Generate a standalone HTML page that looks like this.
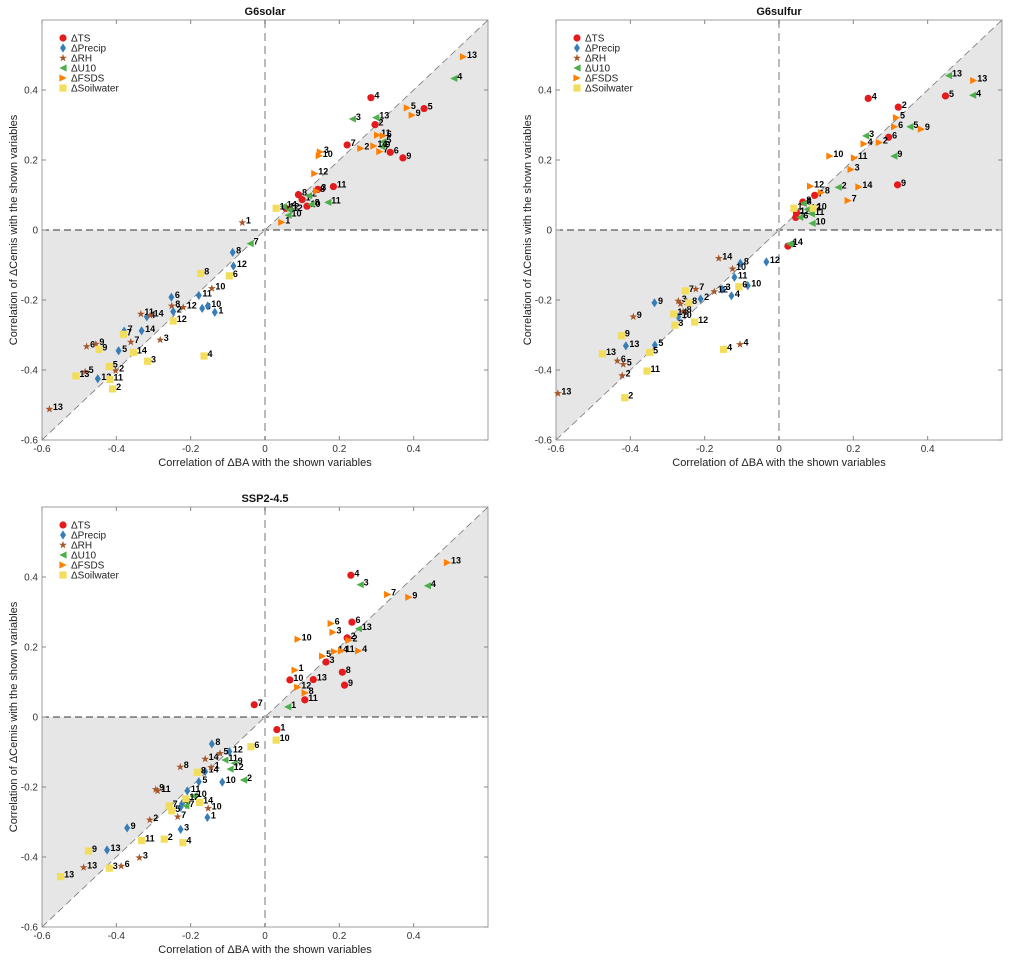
<!DOCTYPE html>
<html><head><meta charset="utf-8"><style>
body{margin:0;background:#fff;}
svg text{font-family:"Liberation Sans",Arial,sans-serif;}
</style></head><body>
<svg id="chart" width="1010" height="961" xmlns="http://www.w3.org/2000/svg"></svg>
<script>
// ---- data ----
const varNames = ["ΔTS","ΔPrecip","ΔRH","ΔU10","ΔFSDS","ΔSoilwater"];
const ticks = [-0.6,-0.4,-0.2,0,0.2,0.4];
const tickLabels = ["-0.6","-0.4","-0.2","0","0.2","0.4"];

const solarTS = {x:[0.285,0.428,0.296,0.221,0.337,0.371,0.184,0.142,0.090,0.100,0.113,0.056], y:[0.378,0.347,0.301,0.243,0.222,0.206,0.124,0.116,0.101,0.087,0.068,0.062], n:[4,5,2,7,6,9,11,3,8,1,10,12]};
const solarPrecip = {x:[-0.087,-0.085,-0.178,-0.252,-0.169,-0.154,-0.135,-0.247,-0.318,-0.332,-0.379,-0.394,-0.450], y:[-0.064,-0.103,-0.187,-0.192,-0.224,-0.217,-0.235,-0.233,-0.248,-0.288,-0.289,-0.345,-0.425], n:[8,12,11,6,3,10,1,2,4,14,7,5,13]};
const solarRH = {x:[-0.061,-0.143,-0.251,-0.220,-0.334,-0.309,-0.361,-0.282,-0.480,-0.455,-0.484,-0.402,-0.580], y:[0.021,-0.167,-0.217,-0.221,-0.240,-0.244,-0.320,-0.314,-0.333,-0.326,-0.405,-0.402,-0.512], n:[1,10,8,12,11,14,7,3,6,9,5,2,13]};
const solarU10 = {x:[0.508,0.298,0.235,0.317,0.314,0.169,0.124,0.117,0.065,0.062,0.049,-0.040], y:[0.433,0.321,0.317,0.252,0.238,0.079,0.073,0.098,0.057,0.042,0.067,-0.039], n:[4,13,3,5,9,11,8,2,12,10,14,7]};
const solarFSDS = {x:[0.534,0.383,0.396,0.303,0.318,0.293,0.309,0.258,0.149,0.146,0.134,0.139,0.045], y:[0.495,0.349,0.328,0.271,0.269,0.240,0.224,0.233,0.223,0.212,0.161,0.111,0.022], n:[13,5,9,11,6,14,7,2,3,10,12,8,1]};
const solarSoil = {x:[0.030,-0.096,-0.173,-0.247,-0.381,-0.447,-0.354,-0.316,-0.164,-0.419,-0.509,-0.417,-0.410], y:[0.062,-0.131,-0.124,-0.260,-0.298,-0.341,-0.350,-0.375,-0.360,-0.390,-0.417,-0.427,-0.454], n:[1,6,8,12,7,9,14,3,4,5,13,11,2]};

const sulfTS = {x:[0.240,0.321,0.448,0.295,0.319,0.096,0.064,0.047,0.045,0.024], y:[0.376,0.351,0.383,0.265,0.129,0.099,0.080,0.049,0.036,-0.046], n:[4,2,5,6,9,7,8,12,3,1]};
const sulfPrecip = {x:[-0.034,-0.104,-0.120,-0.084,-0.128,-0.211,-0.153,-0.335,-0.271,-0.412,-0.334], y:[-0.091,-0.095,-0.135,-0.159,-0.188,-0.197,-0.169,-0.208,-0.248,-0.331,-0.329], n:[12,8,11,10,4,2,3,9,10,13,5]};
const sulfRH = {x:[-0.162,-0.125,-0.224,-0.174,-0.271,-0.265,-0.258,-0.392,-0.435,-0.419,-0.422,-0.105,-0.595], y:[-0.081,-0.111,-0.169,-0.176,-0.203,-0.211,-0.233,-0.248,-0.374,-0.384,-0.416,-0.327,-0.467], n:[14,10,7,12,3,1,8,9,6,5,2,4,13]};
const sulfU10 = {x:[0.456,0.521,0.352,0.233,0.309,0.159,0.065,0.076,0.087,0.056,0.089,0.028], y:[0.441,0.385,0.295,0.269,0.211,0.122,0.076,0.059,0.046,0.036,0.019,-0.040], n:[13,4,5,3,9,2,8,12,11,6,10,14]};
const sulfFSDS = {x:[0.524,0.316,0.311,0.383,0.270,0.229,0.137,0.203,0.194,0.215,0.085,0.114,0.186], y:[0.427,0.321,0.295,0.288,0.250,0.246,0.211,0.206,0.173,0.123,0.125,0.107,0.084], n:[13,5,6,9,2,4,10,11,3,14,12,8,7]};
const sulfSoil = {x:[0.040,0.092,-0.252,-0.243,-0.108,-0.283,-0.280,-0.227,-0.424,-0.475,-0.348,-0.355,-0.149,-0.415], y:[0.062,0.062,-0.174,-0.208,-0.162,-0.240,-0.272,-0.263,-0.302,-0.354,-0.350,-0.403,-0.341,-0.479], n:[1,10,7,8,6,14,3,12,9,13,5,11,4,2]};

const sspTS = {x:[0.231,0.234,0.221,0.164,0.208,0.214,0.130,0.067,0.107,-0.029,0.032], y:[0.405,0.271,0.226,0.157,0.128,0.091,0.107,0.106,0.049,0.035,-0.036], n:[4,6,2,3,8,9,13,10,11,7,1]};
const sspPrecip = {x:[-0.143,-0.096,-0.161,-0.178,-0.115,-0.209,-0.223,-0.227,-0.155,-0.227,-0.371,-0.425], y:[-0.077,-0.099,-0.156,-0.185,-0.186,-0.211,-0.247,-0.258,-0.287,-0.321,-0.317,-0.380], n:[8,12,14,5,10,11,6,7,1,3,9,13]};
const sspRH = {x:[-0.121,-0.161,-0.145,-0.228,-0.294,-0.289,-0.153,-0.235,-0.310,-0.338,-0.387,-0.488], y:[-0.104,-0.120,-0.144,-0.143,-0.207,-0.211,-0.261,-0.285,-0.294,-0.402,-0.426,-0.430], n:[5,14,1,8,9,11,10,7,2,3,6,13]};
const sspU10 = {x:[0.256,0.437,0.251,0.061,-0.108,-0.083,-0.094,-0.058,-0.193,-0.213], y:[0.378,0.375,0.252,0.029,-0.123,-0.132,-0.149,-0.180,-0.226,-0.254], n:[3,4,13,1,11,9,12,2,10,7]};
const sspFSDS = {x:[0.491,0.330,0.387,0.178,0.183,0.089,0.226,0.187,0.206,0.155,0.252,0.081,0.088,0.108], y:[0.441,0.350,0.342,0.267,0.242,0.222,0.219,0.187,0.189,0.174,0.189,0.134,0.085,0.069], n:[13,7,9,6,3,10,2,14,11,5,4,1,12,8]};
const sspSoil = {x:[0.030,-0.038,-0.182,-0.213,-0.176,-0.258,-0.251,-0.332,-0.271,-0.221,-0.475,-0.419,-0.550], y:[-0.066,-0.085,-0.158,-0.234,-0.244,-0.254,-0.268,-0.353,-0.349,-0.359,-0.383,-0.432,-0.456], n:[10,6,8,12,14,7,5,11,2,4,9,3,13]};

const colors = ["#e41a1c","#377eb8","#a65628","#4daf4a","#ff7f00","#f3dd5d"];
const shapes = ["circle","diamond","star","tri-left","tri-right","square"];

const NS="http://www.w3.org/2000/svg";
const svg=document.getElementById('chart');
function mk(tag,attrs,parent){const e=document.createElementNS(NS,tag);for(const k in attrs)e.setAttribute(k,attrs[k]);(parent||svg).appendChild(e);return e;}

function marker(g,shape,cx,cy,col){
  const r=3.6;let e;
  if(shape==="circle") e=mk('circle',{cx:cx,cy:cy,r:r,fill:col},g);
  else if(shape==="square") e=mk('rect',{x:cx-r,y:cy-r,width:2*r,height:2*r,fill:col},g);
  else if(shape==="diamond") e=mk('polygon',{points:`${cx},${cy-r-1} ${cx+r-0.6},${cy} ${cx},${cy+r+1} ${cx-r+0.6},${cy}`,fill:col},g);
  else if(shape==="tri-left") e=mk('polygon',{points:`${cx-r},${cy} ${cx+r},${cy-r} ${cx+r},${cy+r}`,fill:col},g);
  else if(shape==="tri-right") e=mk('polygon',{points:`${cx+r},${cy} ${cx-r},${cy-r} ${cx-r},${cy+r}`,fill:col},g);
  else { let p=[];for(let i=0;i<10;i++){const a=-Math.PI/2+i*Math.PI/5;const rr=i%2?r*0.45:r*1.15;p.push((cx+rr*Math.cos(a)).toFixed(2)+','+(cy+rr*Math.sin(a)).toFixed(2));} e=mk('polygon',{points:p.join(' '),fill:col},g);}
  return e;
}

function panel(ox,oy,title,series,key){
  const W=446,H=420;
  const sx=v=>ox+(v+0.6)*W/1.2;
  const sy=v=>oy+(0.6-v)*H/1.2;
  const g=mk('g',{});
  
  
  mk('rect',{x:ox,y:oy,width:W,height:H,fill:'#fff',stroke:'none'},g);
  const s1=mk('polygon',{points:`${sx(0)},${sy(0)} ${sx(0.6)},${sy(0)} ${sx(0.6)},${sy(0.6)}`,fill:'#e6e6e6'},g);
  
  const s2=mk('polygon',{points:`${sx(0)},${sy(0)} ${sx(-0.6)},${sy(0)} ${sx(-0.6)},${sy(-0.6)}`,fill:'#e6e6e6'},g);
  
  const d=mk('line',{x1:sx(-0.6),y1:sy(-0.6),x2:sx(0.6),y2:sy(0.6),stroke:'#777','stroke-width':0.8,'stroke-dasharray':'7,4'},g);
  
  const h=mk('line',{x1:ox,y1:sy(0),x2:ox+W,y2:sy(0),stroke:'#333','stroke-width':1,'stroke-dasharray':'7,4'},g);
  
  const v=mk('line',{x1:sx(0),y1:oy,x2:sx(0),y2:oy+H,stroke:'#bbb','stroke-width':2,'stroke-dasharray':'8,5'},g);
  
  // axes box
  const b=mk('rect',{x:ox,y:oy,width:W,height:H,fill:'none',stroke:'#888','stroke-width':0.8},g);
  
  ticks.forEach((t,i)=>{
    mk('line',{x1:sx(t),y1:oy+H,x2:sx(t),y2:oy+H-4,stroke:'#888'},g);
    mk('line',{x1:sx(t),y1:oy,x2:sx(t),y2:oy+4,stroke:'#888'},g);
    mk('line',{x1:ox,y1:sy(t),x2:ox+4,y2:sy(t),stroke:'#888'},g);
    mk('line',{x1:ox+W,y1:sy(t),x2:ox+W-4,y2:sy(t),stroke:'#888'},g);
    const xl=mk('text',{x:sx(t),y:oy+H+12,'font-size':10,'text-anchor':'middle',fill:'#333'},g);xl.textContent=tickLabels[i];
    
    const yl=mk('text',{x:ox-4,y:sy(t)+3.5,'font-size':10,'text-anchor':'end',fill:'#333'},g);yl.textContent=tickLabels[i];
    
  });
  const tt=mk('text',{x:ox+W/2,y:oy-5,'font-size':11,'font-weight':'bold','text-anchor':'middle',fill:'#111'},g);tt.textContent=title;
  
  const xt=mk('text',{x:ox+W/2,y:oy+H+26,'font-size':11,'text-anchor':'middle',fill:'#222'},g);xt.textContent='Correlation of ΔBA with the shown variables';
  
  const yt=mk('text',{x:0,y:0,'font-size':11,'text-anchor':'middle',fill:'#222',transform:`translate(${ox-25},${oy+H/2}) rotate(-90)`},g);yt.textContent='Correlation of ΔCemis with the shown variables';
  
  // series
  series.forEach((s,k)=>{
    const sg=mk('g',{},g);
    
    
    s.x.forEach((xv,i)=>{
      const cx=sx(xv),cy=sy(s.y[i]);
      const m=marker(sg,shapes[k],cx,cy,colors[k]);
      
      
      const lb=mk('text',{x:cx+3.5,y:cy+1,'font-size':9,'font-weight':'bold',fill:'#000'},sg);lb.textContent=s.n[i];
      
      
    });
  });
  // legend
  const lg=mk('g',{},g);
  
  
  varNames.forEach((nm,k)=>{
    const yy=oy+18+k*10;
    marker(lg,shapes[k],ox+21,yy,colors[k]);
    const lt=mk('text',{x:ox+29,y:yy+3.5,'font-size':10,fill:'#222'},lg);lt.textContent=nm;
    
    
  });
}
panel(42,20,'G6solar',[solarTS,solarPrecip,solarRH,solarU10,solarFSDS,solarSoil],'g6solar');
panel(556,20,'G6sulfur',[sulfTS,sulfPrecip,sulfRH,sulfU10,sulfFSDS,sulfSoil],'g6sulfur');
panel(42,507,'SSP2-4.5',[sspTS,sspPrecip,sspRH,sspU10,sspFSDS,sspSoil],'ssp245');
</script>
</body></html>
